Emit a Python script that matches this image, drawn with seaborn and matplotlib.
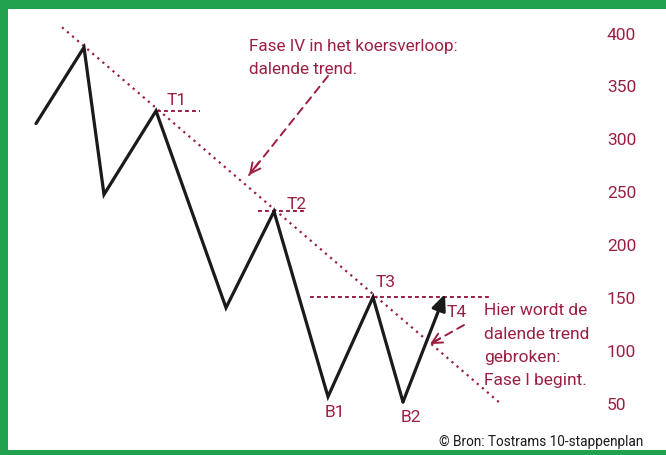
import matplotlib
matplotlib.use("Agg")
import matplotlib.pyplot as plt
import seaborn as sns
import pandas as pd

dag = [3.6, 8.4, 10.4, 15.6, 22.6, 27.4, 32.8, 37.3, 40.3, 44.5]
koers = [314, 386, 247, 326, 140, 231, 56, 150, 51, 153]

# Dalende trendlijn
trend_dag = [6.2, 50.0]
trend_koers = [405, 50]

# Horizontale toppen-niveaus
niveau_van = [15.7, 25.8, 31.0]
niveau_tot = [20.0, 30.5, 49.1]
niveau_koers = [326, 231, 150]

# Labels bij de toppen en bodems
labels = ["T1", "T2", "T3", "T4", "B1", "B2"]
label_punt = [3, 5, 7, 9, 6, 8]
label_offset = [(21, 11), (23, 8), (13, 16), (12, -17), (7, -15), (8, -15)]

yticks = [50, 100, 150, 200, 250, 300, 350, 400]

ROOD = "#9c1f42"
GROEN = "#22a24f"

sns.set_theme(style="white")
plt.rcParams["font.family"] = ["Roboto", "DejaVu Sans"]

fig = plt.figure(figsize=(6.66, 4.56), dpi=100, facecolor=GROEN)

# witte achtergrond binnen de groene rand
bg = fig.add_axes([8 / 666, 5 / 456, 658 / 666, 441 / 456], zorder=-1)
bg.set_facecolor("white")
bg.set_xticks([])
bg.set_yticks([])
for s in bg.spines.values():
    s.set_visible(False)

ax = fig.add_axes([0, 20 / 456, 600 / 666, 416 / 456])
ax.set_facecolor("none")

df = pd.DataFrame({"dag": dag[:-1], "koers": koers[:-1]})
sns.lineplot(data=df, x="dag", y="koers", sort=False, color="#1a1a1a", lw=2.3,
             solid_joinstyle="miter", ax=ax)

# laatste stuk als pijl
ax.annotate("", xy=(dag[-1], koers[-1]), xytext=(dag[-2], koers[-2]),
            arrowprops=dict(arrowstyle="-|>,head_length=0.8,head_width=0.35",
                            color="#1a1a1a", lw=2.3, shrinkA=0, shrinkB=0))

ax.plot(trend_dag, trend_koers, color=ROOD, lw=1.6, ls=(0, (1, 2)), zorder=1)
for x0, x1, y in zip(niveau_van, niveau_tot, niveau_koers):
    ax.plot([x0, x1], [y, y], color=ROOD, lw=1.4, ls=(0, (2, 1.6)), zorder=1)

for lab, i, off in zip(labels, label_punt, label_offset):
    ax.annotate(lab, xy=(dag[i], koers[i]), xytext=off, textcoords="offset pixels",
                ha="center", va="center", color=ROOD, fontsize=12.5)

# toelichtingen
ax.text(24.9, 395, "Fase IV in het koersverloop:\ndalende trend.", ha="left", va="top",
        color=ROOD, fontsize=12.3, linespacing=1.72)
ax.annotate("", xy=(24.9, 265.4), xytext=(32.8, 358.9),
            arrowprops=dict(arrowstyle="-", color=ROOD, lw=1.4, ls=(0, (4, 3)),
                            shrinkA=0, shrinkB=0))
ax.annotate("", xy=(24.9, 265.4), xytext=(25.9, 277.6),
            arrowprops=dict(arrowstyle="->,head_length=0.6,head_width=0.3", color=ROOD,
                            lw=1.4, shrinkA=0, shrinkB=0))

ax.text(48.4, 145, "Hier wordt de\ndalende trend\ngebroken:\nFase I begint.", ha="left",
        va="top", color=ROOD, fontsize=12.5, linespacing=1.68)
ax.annotate("", xy=(43.0, 105.7), xytext=(46.4, 123.7),
            arrowprops=dict(arrowstyle="-", color=ROOD, lw=1.4, ls=(0, (4, 3)),
                            shrinkA=0, shrinkB=0))
ax.annotate("", xy=(43.0, 105.7), xytext=(44.0, 111.0),
            arrowprops=dict(arrowstyle="->,head_length=0.6,head_width=0.3", color=ROOD,
                            lw=1.4, shrinkA=0, shrinkB=0))

ax.set_xlim(0, 60)
ax.set_ylim(19.8, 412.8)
ax.set_xticks([])
ax.set_yticks(yticks)
ax.yaxis.tick_right()
ax.tick_params(axis="y", length=0, pad=5, labelsize=12.5, labelcolor=ROOD)
ax.set_xlabel("")
ax.set_ylabel("")
for s in ax.spines.values():
    s.set_visible(False)

fig.text(643 / 666, 10 / 456, "© Bron: Tostrams 10-stappenplan", ha="right", va="baseline",
         color="#1a1a1a", fontsize=9.8)

fig.savefig("out.png", dpi=100, facecolor=GROEN)
